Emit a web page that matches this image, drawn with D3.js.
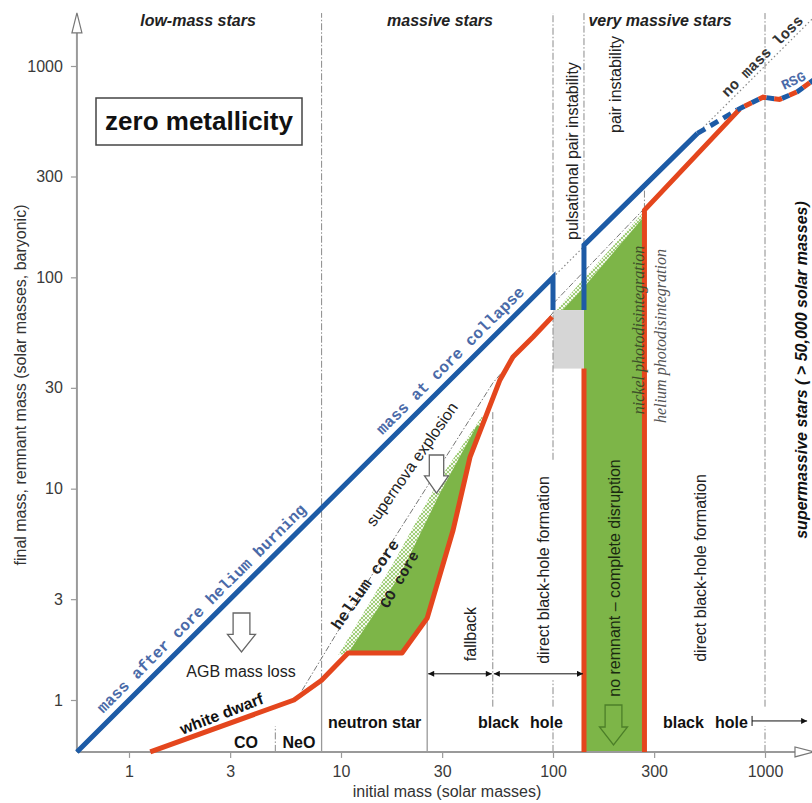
<!DOCTYPE html>
<html><head><meta charset="utf-8">
<script src="https://cdn.jsdelivr.net/npm/d3@7"></script>
<style>
body{margin:0;background:#fff}
</style></head><body>
<svg id="chart" width="812" height="803"></svg>
<script>
// ---------- data (solar masses) ----------
const xTickValues=[1,3,10,30,100,300,1000];
const yTickValues=[1,3,10,30,100,300,1000];
const axisMin=0.568, xAxisMax=1385, yAxisMax=1435, guideTop=1780;

// stellar mass at core collapse (blue)
const finalMassLow=[[0.568,0.568],[100,100],[100,70]];
const finalMassPPI=[[140,70],[140,142],[480,480]];
const finalMassDashed=[[480,480],[740,620]];
const finalMassRSG=[[740,620],[980,712],[1170,695],[1420,755],[1750,880]];
// no mass loss reference (1:1)
const noMassLoss=[[100,100],[1780,1780]];

// remnant mass (orange)
const remnantLow=[[1.26,0.568],[6.0,1.0],[8.1,1.24],[10.8,1.67],[19.4,1.67],[25.5,2.44],[33.8,6.37],[40.6,14.1],[56.2,32.7],[64.7,42],[80.5,52.2],[99,65]];
const remnantPISNLow=[[140,0.568],[140,37]];
const remnantPISNHigh=[[270,0.568],[270,208],[760,625]];

// helium core (dash-dot)
const heliumCore=[[6.55,1.11],[17.6,5.7],[52,31.6],[100,68]];
const heliumCorePISN=[[100,75],[270,212]];

// CO core regions (green) and hatched margins
const coCoreMassive=[[10.8,1.67],[19,3.9],[29.3,9.55],[43.8,20],[46,19.5],[40.6,14.1],[33.8,6.37],[25.5,2.44],[19.4,1.67]];
const coHatchMassive=[[9.7,1.63],[18,4.6],[29.3,11.2],[46.7,22.3],[46,19.5],[43.8,20],[29.3,9.55],[19,3.9],[10.8,1.67]];
const coCorePISN=[[111,70],[140,90],[270,195],[270,0.568],[140,0.568],[140,70]];
const coHatchPISN=[[104,70],[140,99],[270,206],[270,195],[140,90],[111,70]];

// unstable region without models (gray)
const grayBox=[[100,37],[140,70]];

// regime boundaries: [initial mass, from, to]
const dashedGuides=[[8.1,1.24,1780],[52,0.93,23.5],[100,0.568,0.75],[100,0.93,1.24],[100,13.7,1780],[140,142,1780],[1000,0.568,0.75],[1000,0.93,1780],[4.9,0.568,0.75],[270,208,270]];
const solidGuides=[[8.1,0.568,1.24],[25.5,0.568,2.44]];

// range arrows: [from, to, level]
const rangeArrows=[[25.5,52,1.33],[52,140,1.33]];
const blackHoleArrow=[869,1580,0.796];

// ---------- drawing ----------
const SANS="Liberation Sans, Arial, sans-serif";
const MONO="Liberation Mono, Courier New, monospace";
const SERIF="Liberation Serif, Times New Roman, serif";
const svg=d3.select("#chart");
const x=d3.scaleLog().domain([1,1000]).range([129,765]);
const y=d3.scaleLog().domain([1,1000]).range([700,66]);
const line=d3.line().x(d=>x(d[0])).y(d=>y(d[1]));

const BLUE="#1d5ba6", ORANGE="#e4461d", GREEN="#7db548", GUIDE="#8a8a8a";
const defs=svg.append("defs");
const hatch=defs.append("pattern").attr("id","hatch").attr("patternUnits","userSpaceOnUse").attr("width",4).attr("height",4);
hatch.append("rect").attr("width",4).attr("height",4).attr("fill","#f4f9ee");
hatch.append("path").attr("d","M0,0L4,4M4,0L0,4").attr("stroke","#8cc35c").attr("stroke-width",0.8);
defs.append("marker").attr("id","tri").attr("viewBox","0 0 10 10").attr("refX",10).attr("refY",5)
  .attr("markerWidth",10).attr("markerHeight",6).attr("markerUnits","userSpaceOnUse").attr("orient","auto-start-reverse")
  .append("path").attr("d","M0,0L10,5L0,10Z").attr("fill","#111");

// fills
const fills=svg.append("g");
fills.append("path").attr("d",line(coHatchMassive)+"Z").attr("fill","url(#hatch)");
fills.append("path").attr("d",line(coHatchPISN)+"Z").attr("fill","url(#hatch)");
fills.append("path").attr("d",line(coCoreMassive)+"Z").attr("fill",GREEN);
fills.append("path").attr("d",line(coCorePISN)+"Z").attr("fill",GREEN);
fills.append("rect").attr("x",x(grayBox[0][0])).attr("y",y(grayBox[1][1]))
  .attr("width",x(grayBox[1][0])-x(grayBox[0][0])).attr("height",y(grayBox[0][1])-y(grayBox[1][1])).attr("fill","#d6d6d6");

// guides
const guides=svg.append("g");
dashedGuides.forEach(g=>guides.append("line").attr("x1",x(g[0])).attr("x2",x(g[0])).attr("y1",y(g[1])).attr("y2",y(g[2]))
  .attr("stroke",GUIDE).attr("stroke-width",1).attr("stroke-dasharray","7,2,1.5,2"));
solidGuides.forEach(g=>guides.append("line").attr("x1",x(g[0])).attr("x2",x(g[0])).attr("y1",y(g[1])).attr("y2",y(g[2]))
  .attr("stroke","#999").attr("stroke-width",1.3));

// axes
const axisColor="#9a9a9a";
svg.append("line").attr("x1",x(axisMin)).attr("x2",x(axisMin)).attr("y1",y(axisMin)).attr("y2",y(yAxisMax)).attr("stroke",axisColor).attr("stroke-width",2);
svg.append("line").attr("x1",x(axisMin)).attr("x2",x(xAxisMax)).attr("y1",y(axisMin)).attr("y2",y(axisMin)).attr("stroke",axisColor).attr("stroke-width",2);
const ax0=x(axisMin), ay0=y(axisMin), yTopPx=y(yAxisMax), xEndPx=x(xAxisMax);
svg.append("path").attr("d",`M${ax0-5},${yTopPx}L${ax0+5},${yTopPx}L${ax0},${yTopPx-20}Z`).attr("fill","#fff").attr("stroke","#777").attr("stroke-width",1.2);
svg.append("path").attr("d",`M${xEndPx},${ay0-5}L${xEndPx},${ay0+5}L${xEndPx+19},${ay0}Z`).attr("fill","#fff").attr("stroke","#777").attr("stroke-width",1.2);

const gx=svg.append("g").attr("transform",`translate(0,${ay0})`)
  .call(d3.axisBottom(x).tickValues(xTickValues).tickFormat(d3.format("d")).tickSize(6).tickPadding(8));
const gy=svg.append("g").attr("transform",`translate(${ax0},0)`)
  .call(d3.axisLeft(y).tickValues(yTickValues).tickFormat(d3.format("d")).tickSize(6).tickPadding(8));
[gx,gy].forEach(g=>{g.select(".domain").remove();
  g.selectAll(".tick line").attr("stroke",axisColor).attr("stroke-width",1.2);
  g.selectAll(".tick text").attr("fill","#3a3a3a").style("font-size","16px").style("font-family",SANS);});

// core lines
svg.append("path").attr("d",line(heliumCore)).attr("fill","none").attr("stroke","#777").attr("stroke-width",1).attr("stroke-dasharray","6,2,1.5,2");
svg.append("path").attr("d",line(heliumCorePISN)).attr("fill","none").attr("stroke","#777").attr("stroke-width",1).attr("stroke-dasharray","6,2,1.5,2");
svg.append("path").attr("d",line(noMassLoss)).attr("fill","none").attr("stroke","#888").attr("stroke-width",1.2).attr("stroke-dasharray","1.5,2.5");

// stellar mass (blue)
[finalMassLow,finalMassPPI].forEach(d=>svg.append("path").attr("d",line(d)).attr("fill","none").attr("stroke",BLUE).attr("stroke-width",5).attr("stroke-linejoin","miter"));
svg.append("path").attr("d",line(finalMassDashed)).attr("fill","none").attr("stroke",BLUE).attr("stroke-width",5).attr("stroke-dasharray","9,6");

// remnant mass (orange)
[remnantLow,remnantPISNLow,remnantPISNHigh].forEach(d=>svg.append("path").attr("d",line(d)).attr("fill","none").attr("stroke",ORANGE).attr("stroke-width",5).attr("stroke-linejoin","round"));
svg.append("path").attr("d",line(finalMassRSG)).attr("fill","none").attr("stroke",BLUE).attr("stroke-width",5).attr("stroke-dasharray","8,8");
svg.append("path").attr("d",line(finalMassRSG)).attr("fill","none").attr("stroke",ORANGE).attr("stroke-width",5).attr("stroke-dasharray","8,8").attr("stroke-dashoffset",8);

// range arrows
rangeArrows.forEach(a=>svg.append("line").attr("x1",x(a[0])+1).attr("x2",x(a[1])-1).attr("y1",y(a[2])).attr("y2",y(a[2]))
  .attr("stroke","#111").attr("stroke-width",1).attr("marker-start","url(#tri)").attr("marker-end","url(#tri)"));
svg.append("line").attr("x1",x(blackHoleArrow[0])).attr("x2",x(blackHoleArrow[1])).attr("y1",y(blackHoleArrow[2])).attr("y2",y(blackHoleArrow[2]))
  .attr("stroke","#111").attr("stroke-width",1).attr("marker-end","url(#tri)");
svg.append("line").attr("x1",x(blackHoleArrow[0])).attr("x2",x(blackHoleArrow[0])).attr("y1",y(blackHoleArrow[2])-5).attr("y2",y(blackHoleArrow[2])+5)
  .attr("stroke","#111").attr("stroke-width",1);

// block arrows
function blockArrow(cx,top,bottom,w,fill,stroke){
  const sw=w*0.6, hy=top+(bottom-top)*0.55;
  svg.append("path").attr("d",`M${cx-sw/2},${top}L${cx+sw/2},${top}L${cx+sw/2},${hy}L${cx+w/2},${hy}L${cx},${bottom}L${cx-w/2},${hy}L${cx-sw/2},${hy}Z`)
    .attr("fill",fill).attr("stroke",stroke).attr("stroke-width",1.3);
}
blockArrow(241.5,613,652,28,"#fff","#666");
blockArrow(436.5,455,493,24,"#fff","#666");
blockArrow(613.5,705,745,28,"none","#4c7f28");

// text
function txt(s,px,py,o){
  o=o||{};
  const t=svg.append("text").attr("transform",`translate(${px},${py}) rotate(${o.rot||0})`)
    .attr("text-anchor",o.anchor||"middle").attr("fill",o.fill||"#111")
    .style("font-family",o.family||SANS).style("font-size",(o.size||16)+"px")
    .style("font-weight",o.weight||"normal").style("font-style",o.style||"normal").text(s);
  if(o.dy) t.attr("dy",o.dy);
  if(o.baseline) t.attr("dominant-baseline",o.baseline);
  return t;
}

txt("initial mass (solar masses)",447,797,{fill:"#333"});
txt("final mass, remnant mass (solar masses, baryonic)",26,385,{rot:-90,fill:"#333"});

const diag=Math.atan2(y(100)-y(1),x(100)-x(1))*180/Math.PI;
function onDiag(m,off){ // point on the 1:1 line shifted perpendicular
  const a=diag*Math.PI/180; return [x(m)+off*Math.sin(a), y(m)-off*Math.cos(a)];
}

txt("low-mass stars",198,26,{weight:"bold",style:"italic",fill:"#222"});
txt("massive stars",440,26,{weight:"bold",style:"italic",fill:"#222"});
txt("very massive stars",660,26,{weight:"bold",style:"italic",fill:"#222"});

svg.append("rect").attr("x",96).attr("y",98).attr("width",206).attr("height",47).attr("fill","#fff").attr("stroke","#444").attr("stroke-width",1.5);
txt("zero metallicity",199,130,{size:26,weight:"bold",fill:"#111"});

let p=onDiag(2.44,8.5);
txt("mass after core helium burning",p[0],p[1],{rot:diag,family:MONO,weight:"bold",fill:"#4a6aa8"});
p=onDiag(36.4,8.5);
txt("mass at core collapse",p[0],p[1],{rot:diag,family:MONO,weight:"bold",fill:"#4a6aa8"});
p=onDiag(1040,4);
txt("no mass loss",p[0],p[1],{rot:diag,family:MONO,weight:"bold",fill:"#333",size:15});
txt("RSG",784,90,{rot:-25,family:MONO,weight:"bold",fill:"#4a6aa8",anchor:"start",size:14});

txt("helium core",366,585,{rot:-55,family:MONO,weight:"bold",fill:"#222",baseline:"middle"});
txt("CO core",400,580,{rot:-60,family:MONO,weight:"bold",fill:"#222",size:15,baseline:"middle"});
txt("supernova explosion",413,465,{rot:-55,fill:"#222",baseline:"middle"});
txt("AGB mass loss",241,677,{fill:"#222"});
txt("white dwarf",222,715,{rot:-21,weight:"bold",fill:"#111",baseline:"middle"});

txt("CO",246,748,{weight:"bold"});
txt("NeO",299,748,{weight:"bold"});
txt("neutron star",328,728,{weight:"bold",anchor:"start"});
txt("black",478,728,{weight:"bold",anchor:"start"});
txt("hole",530,728,{weight:"bold",anchor:"start"});
txt("black",663,728,{weight:"bold",anchor:"start"});
txt("hole",715,728,{weight:"bold",anchor:"start"});

txt("fallback",476,634,{rot:-90,fill:"#222"});
txt("direct black-hole formation",549,570,{rot:-90,fill:"#222"});
txt("direct black-hole formation",706,568,{rot:-90,fill:"#222"});
txt("no remnant  \u2013  complete disruption",620,578,{rot:-90,fill:"#1a2a10"});
txt("pulsational pair instability",578,240,{rot:-90,fill:"#222",anchor:"start"});
txt("pair instability",621,133,{rot:-90,fill:"#222",anchor:"start"});
txt("nickel photodisintegration",644,330,{rot:-90,family:SERIF,style:"italic",fill:"#3e5028"});
txt("helium photodisintegration",666,336,{rot:-90,family:SERIF,style:"italic",fill:"#555"});
txt("supermassive stars ( > 50,000 solar masses)",807,370,{rot:-90,weight:"bold",style:"italic",fill:"#111"});
</script>
</body></html>
